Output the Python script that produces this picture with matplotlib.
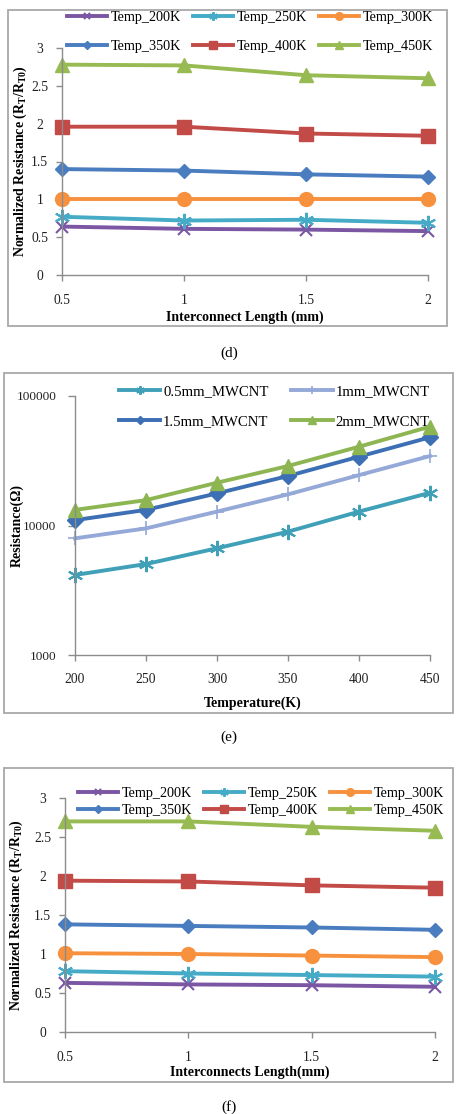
import matplotlib
matplotlib.use('Agg')
import matplotlib.pyplot as plt
from matplotlib.patches import Rectangle
from matplotlib.transforms import blended_transform_factory

plt.rcParams['font.family'] = ['Liberation Serif', 'DejaVu Serif']
plt.rcParams['mathtext.fontset'] = 'custom'
plt.rcParams['mathtext.rm'] = 'Liberation Serif'
plt.rcParams['mathtext.bf'] = 'Liberation Serif:bold'
plt.rcParams['mathtext.it'] = 'Liberation Serif:italic'

W, H = 457, 1114

# ---- data ----
lengths = [0.5, 1, 1.5, 2]
temp_labels = ['Temp_200K', 'Temp_250K', 'Temp_300K',
               'Temp_350K', 'Temp_400K', 'Temp_450K']

# panel (d)
d_200 = [0.64, 0.61, 0.60, 0.58]
d_250 = [0.77, 0.72, 0.73, 0.69]
d_300 = [1.00, 1.00, 1.00, 1.00]
d_350 = [1.40, 1.38, 1.33, 1.30]
d_400 = [1.96, 1.96, 1.87, 1.84]
d_450 = [2.78, 2.77, 2.64, 2.60]

# panel (e)
temperatures = [200, 250, 300, 350, 400, 450]
cnt_labels = ['0.5mm_MWCNT', '1mm_MWCNT', '1.5mm_MWCNT', '2mm_MWCNT']
e_05 = [4150, 5040, 6670, 8960, 12800, 17900]
e_1 = [7960, 9500, 12800, 17400, 24500, 34400]
e_15 = [11000, 13200, 17700, 24100, 34000, 48000]
e_2 = [13200, 15700, 21400, 28800, 40600, 58000]

# panel (f)
f_200 = [0.63, 0.61, 0.60, 0.58]
f_250 = [0.78, 0.75, 0.73, 0.71]
f_300 = [1.01, 1.00, 0.98, 0.96]
f_350 = [1.38, 1.36, 1.34, 1.31]
f_400 = [1.94, 1.93, 1.88, 1.85]
f_450 = [2.70, 2.70, 2.63, 2.58]

purple = '#7a56a3'
teal = '#45abc6'
orange = '#f7913e'
blue = '#4a7cc0'
red = '#c24a47'
green = '#97bb52'
lightblue = '#95a9d8'
grey = '#8c8c8c'

temp_styles = [
    dict(color=purple, marker='x', ms=9, mew=1.5),
    dict(color=teal, marker=(6, 2, 0), ms=11, mew=1.5),
    dict(color=orange, marker='o', ms=10),
    dict(color=blue, marker='D', ms=7),
    dict(color=red, marker='s', ms=10),
    dict(color=green, marker='^', ms=10),
]
cnt_styles = [
    dict(color='#3fa0b8', marker=(6, 2, 0), ms=11, mew=1.5),
    dict(color=lightblue, marker='+', ms=10, mew=1.2),
    dict(color='#3c6fb3', marker='D', ms=8),
    dict(color='#8db653', marker='^', ms=10),
]


def fx(x):
    return x / W


def fy(y):
    return 1 - y / H


def make_axes(x0, x1, ytop, ybot):
    return fig.add_axes([fx(x0), fy(ybot), (x1 - x0) / W, (ybot - ytop) / H])


def style_axes(ax):
    for s in ['top', 'right']:
        ax.spines[s].set_visible(False)
    for s in ['left', 'bottom']:
        ax.spines[s].set_color(grey)
        ax.spines[s].set_linewidth(1.0)
    ax.tick_params(colors=grey, length=4, width=1.0, labelcolor='#222222',
                   labelsize=9.8)


def place_labels(ax, ylab_x, xlab_y):
    ax.xaxis.set_label_coords(0.5, fy(xlab_y),
                              transform=blended_transform_factory(ax.transAxes, fig.transFigure))
    ax.yaxis.set_label_coords(fx(ylab_x), 0.5,
                              transform=blended_transform_factory(fig.transFigure, ax.transAxes))
    ax.xaxis.label.set_verticalalignment('center')
    ax.yaxis.label.set_verticalalignment('center')


def border(x0, y0, x1, y1):
    fig.patches.append(Rectangle((fx(x0), fy(y1)), (x1 - x0) / W, (y1 - y0) / H,
                                 transform=fig.transFigure, fill=False,
                                 edgecolor='#a8a8a8', lw=1.3))


fig = plt.figure(figsize=(W / 100, H / 100), dpi=100)

ylab = r'Normalized Resistance ($\mathbf{R_T}$/$\mathbf{R_{T0}}$)'


def temp_panel(ax, series, xlabel, leg_y, leg_x, rowsp, ylab_x, xlab_y):
    handles = []
    for vals, lab, st in zip(series, temp_labels, temp_styles):
        h, = ax.plot(lengths, vals, lw=2.8, label=lab, clip_on=False, **st)
        handles.append(h)
    ax.set_xlim(0.5, 2)
    ax.set_ylim(0, 3)
    ax.set_xticks(lengths)
    ax.set_xticklabels(['0.5', '1', '1.5', '2'])
    ax.set_yticks([0, 0.5, 1, 1.5, 2, 2.5, 3])
    ax.set_yticklabels(['0', '0.5', '1', '1.5', '2', '2.5', '3'])
    style_axes(ax)
    ax.tick_params(axis='y', pad=12)
    ax.tick_params(axis='x', pad=10)
    for t in ax.yaxis.get_major_ticks():
        t.label1.set_horizontalalignment('center')
    ax.set_xlabel(xlabel, fontsize=10, fontweight='bold')
    ax.set_ylabel(ylab, fontsize=10, fontweight='bold')
    place_labels(ax, ylab_x, xlab_y)
    order = [0, 3, 1, 4, 2, 5]
    fig.legend(handles=[handles[i] for i in order], ncol=3, frameon=False,
               fontsize=10.2, loc='upper left',
               bbox_to_anchor=(fx(leg_x), fy(leg_y)),
               handlelength=2.8, handletextpad=0.28, columnspacing=0.85,
               labelspacing=rowsp, markerscale=0.55, borderpad=0,
               borderaxespad=0)


# (d)
border(8, 10, 447, 326)
ax_d = make_axes(62, 428, 48, 275)
temp_panel(ax_d, [d_200, d_250, d_300, d_350, d_400, d_450],
           'Interconnect Length (mm)', 11, 67, 1.1, 20, 317)
fig.text(fx(229), fy(353), '(d)', ha='center', va='center', fontsize=11)

# (e)
border(4, 373, 453, 713)
ax_e = make_axes(75, 430, 396, 655)
handles = []
for vals, lab, st in zip([e_05, e_1, e_15, e_2], cnt_labels, cnt_styles):
    h, = ax_e.plot(temperatures, vals, lw=2.8, label=lab, clip_on=False, **st)
    handles.append(h)
ax_e.set_yscale('log')
ax_e.set_xlim(200, 450)
ax_e.set_ylim(1000, 100000)
ax_e.set_xticks(temperatures)
ax_e.set_yticks([1000, 10000, 100000])
ax_e.set_yticklabels(['1000', '10000', '100000'])
ax_e.minorticks_off()
style_axes(ax_e)
ax_e.tick_params(axis='y', pad=8.5, length=5, labelsize=9.5)
ax_e.tick_params(axis='x', pad=9)
ax_e.set_xlabel('Temperature(K)', fontsize=10, fontweight='bold')
ax_e.set_ylabel('Resistance(Ω)', fontsize=10, fontweight='bold')
place_labels(ax_e, 17, 703)
fig.legend(handles=[handles[i] for i in [0, 2, 1, 3]], ncol=2, frameon=False,
           fontsize=10.6, loc='upper left', bbox_to_anchor=(fx(119), fy(385)),
           handlelength=2.8, handletextpad=0.2, columnspacing=1.55,
           labelspacing=1.1, markerscale=0.55, borderpad=0, borderaxespad=0)
fig.text(fx(229), fy(737), '(e)', ha='center', va='center', fontsize=11)

# (f)
border(4, 768, 453, 1082)
ax_f = make_axes(65, 435, 798, 1032)
temp_panel(ax_f, [f_200, f_250, f_300, f_350, f_400, f_450],
           'Interconnects Length(mm)', 787, 78, 0.25, 16, 1072)
fig.text(fx(229), fy(1107), '(f)', ha='center', va='center', fontsize=11)

fig.savefig('out.png', dpi=100)
